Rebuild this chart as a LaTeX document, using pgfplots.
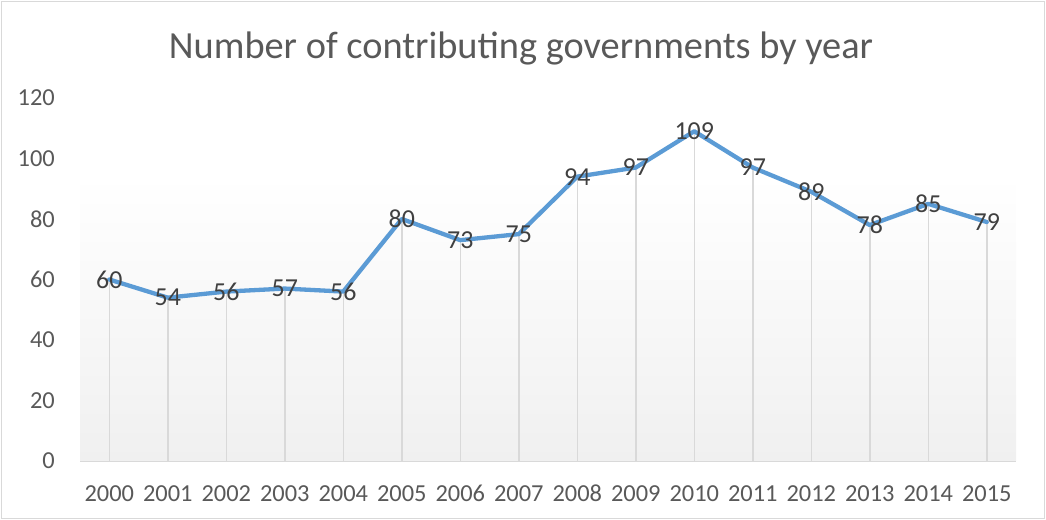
\documentclass[border=0pt]{standalone}
\usepackage{fontspec}
\setmainfont{Carlito}
\usepackage{pgfplots}
\pgfplotsset{compat=1.18}
\definecolor{linecol}{HTML}{5B9BD5}
\definecolor{txtgray}{HTML}{595959}
\definecolor{lblgray}{HTML}{404040}
\definecolor{dropgray}{HTML}{D9D9D9}
\definecolor{bordergray}{HTML}{D9D9D9}
\definecolor{bggray}{HTML}{F0F0F0}
\begin{document}
\begin{tikzpicture}[x=1bp,y=1bp]
\useasboundingbox (0,0) rectangle (1046,520);
\draw[bordergray, line width=1.2bp] (1.5,1.5) rectangle (1044.5,518.5);
\node[anchor=base, text=txtgray, font=\fontsize{38.5}{46}\selectfont, inner sep=0pt] at (521,461.7) {Number of contributing governments by year};
\begin{axis}[
  at={(80bp,59bp)}, anchor=south west,
  scale only axis, width=936bp, height=363bp,
  xmin=-0.5, xmax=15.5, ymin=0, ymax=120,
  xtick={0,...,15},
  xticklabels={2000,2001,2002,2003,2004,2005,2006,2007,2008,2009,2010,2011,2012,2013,2014,2015},
  ytick={0,20,...,120},
  axis y line*=left,
  axis x line*=bottom,
  x axis line style={dropgray, line width=1.2bp, -},
  y axis line style={draw=none, -},
  major tick length=0pt,
  tick style={draw=none},
  /pgf/number format/assume math mode=true,
  tick label style={font=\fontsize{24.5}{29}\selectfont, text=txtgray, inner sep=0pt},
  xticklabel shift=24bp,
  yticklabel shift=25bp,
  clip=false,
]
\fill[top color=white, bottom color=bggray] (axis cs:-0.5,0) rectangle (axis cs:15.5,94.5);
\addplot[ycomb, dropgray, line width=1.5bp, mark=none] coordinates {
(0,60) (1,54) (2,56) (3,57) (4,56) (5,80) (6,73) (7,75) (8,94) (9,97) (10,109) (11,97) (12,89) (13,78) (14,85) (15,79)};
\addplot[linecol, line width=4.3bp, line join=round, line cap=round, mark=none,
  nodes near coords, every node near coord/.append style={anchor=center, text=lblgray, font=\fontsize{26}{31}\selectfont, inner sep=0pt}]
 coordinates {
(0,60) (1,54) (2,56) (3,57) (4,56) (5,80) (6,73) (7,75) (8,94) (9,97) (10,109) (11,97) (12,89) (13,78) (14,85) (15,79)};
\end{axis}
\end{tikzpicture}
\end{document}
